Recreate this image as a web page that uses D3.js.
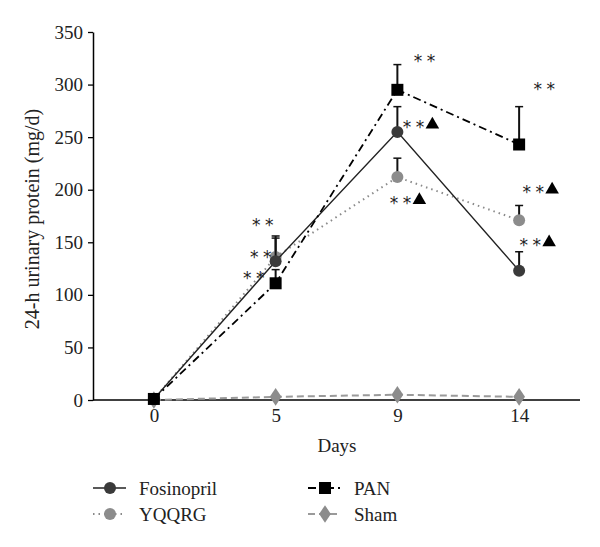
<!DOCTYPE html>
<html><head><meta charset="utf-8">
<script src="https://cdn.jsdelivr.net/npm/d3@7"></script>
<style>body{margin:0;background:#fff} svg text{font-family:"Liberation Serif","Times New Roman",serif}</style>
</head><body>
<svg id="c" width="600" height="547"></svg>
<script>
const days = ["0","5","9","14"];
const yTicks = [0,50,100,150,200,250,300,350];
const fosinopril = [1,132,255,123];
const fosinoprilErr = [0,22,24,18];
const yqqrg = [1,136,212,171];
const yqqrgErr = [0,20,18,14];
const pan = [1,111,295,243];
const panErr = [0,13,24,36];
const sham = [0,3,5,3];
const shamErr = [0,0,0,0];
// significance marks: day, value level, with triangle?
const annDays = ["5","5","5","9","9","9","14","14","14"];
const annValues = [170,139,119,326,263,191,299,201,151];
const annTri = [false,false,false,false,true,true,false,true,true];
const annDx = [-13,-15,-22,27,16,3,25,14,11];

const svg = d3.select("#c");
const x = d3.scalePoint().domain(days).range([93,580]).padding(0.5);
const y = d3.scaleLinear().domain([0,350]).range([400,32]);
const serif = '"Liberation Serif","Times New Roman",serif';
const FS = 19;

// axes
const yAxis = svg.append("g").attr("transform","translate(93,0)")
  .call(d3.axisLeft(y).tickValues(yTicks).tickSize(5).tickSizeOuter(0));
yAxis.select(".domain").attr("stroke","#000").attr("stroke-width",1.5);
yAxis.selectAll(".tick line").attr("stroke-width",1.3);
yAxis.selectAll("text").style("font-family",serif).style("font-size",FS+"px").attr("fill","#222").attr("dx",-2);

const xAxis = svg.append("g").attr("transform","translate(0,400)")
  .call(d3.axisBottom(x).tickSize(0).tickSizeOuter(0).tickPadding(9));
xAxis.select(".domain").attr("d","M93,0H580").attr("stroke","#000").attr("stroke-width",1.5);
xAxis.selectAll("text").style("font-family",serif).style("font-size",FS+"px").attr("fill","#222");

svg.append("text").attr("x",337).attr("y",452).attr("text-anchor","middle")
  .style("font-family",serif).style("font-size",FS+"px").attr("fill","#222").text("Days");
svg.append("text").attr("transform","translate(39,219) rotate(-90)").attr("text-anchor","middle")
  .style("font-family",serif).style("font-size","20px").attr("fill","#222").text("24-h urinary protein (mg/d)");

const series = [
  {name:"Sham", vals:sham, err:shamErr, line:"#9a9a9a", dash:"7,4", lw:2, marker:"diamond", fill:"#8c8c8c"},
  {name:"YQQRG", vals:yqqrg, err:yqqrgErr, line:"#8a8a8a", dash:"1.5,4", lw:2, marker:"circle", fill:"#8c8c8c"},
  {name:"Fosinopril", vals:fosinopril, err:fosinoprilErr, line:"#222", dash:null, lw:1.4, marker:"circle", fill:"#3a3a3a"},
  {name:"PAN", vals:pan, err:panErr, line:"#000", dash:"8,4,2,4", lw:1.8, marker:"square", fill:"#000"}
];

const line = d3.line().x((d,i)=>x(days[i])).y(d=>y(d));
function marker(g, type, fill){
  if(type==="circle") g.append("circle").attr("r",6).attr("fill",fill);
  else if(type==="square") g.append("rect").attr("x",-6).attr("y",-6).attr("width",12).attr("height",12).attr("fill",fill);
  else g.append("path").attr("d",d3.symbol(d3.symbolDiamond,90)()).attr("fill",fill).attr("transform","scale(1.15,1)");
}

series.forEach(s=>{
  const g = svg.append("g");
  s.vals.forEach((v,i)=>{
    if(s.err[i]>0){
      const cx = x(days[i]);
      g.append("line").attr("x1",cx).attr("x2",cx).attr("y1",y(v)).attr("y2",y(v+s.err[i])).attr("stroke","#111").attr("stroke-width",2);
      g.append("line").attr("x1",cx-4).attr("x2",cx+4).attr("y1",y(v+s.err[i])).attr("y2",y(v+s.err[i])).attr("stroke","#111").attr("stroke-width",1.5);
    }
  });
  g.append("path").attr("d",line(s.vals)).attr("fill","none").attr("stroke",s.line)
    .attr("stroke-width",s.lw).attr("stroke-dasharray",s.dash);
  s.vals.forEach((v,i)=>{
    const m = g.append("g").attr("transform",`translate(${x(days[i])},${y(v)})`);
    marker(m, s.marker, s.fill);
  });
});

// annotations
annDays.forEach((d,i)=>{
  const cx = x(d)+annDx[i], cy = y(annValues[i]);
  [-6.5,6.5].forEach(o=>{
    svg.append("text").attr("x",cx+o).attr("y",cy+9.5).attr("text-anchor","middle")
      .style("font-family","'DejaVu Sans',sans-serif").style("font-size","17px").attr("fill","#222").text("*");
  });
  if(annTri[i]){
    svg.append("path").attr("d",d3.symbol(d3.symbolTriangle,80)())
      .attr("transform",`translate(${cx+19},${cy+1})`).attr("fill","#000");
  }
});

// legend
const legend = [
  {name:"Fosinopril", s:series[2], lx:93, ly:488},
  {name:"YQQRG", s:series[1], lx:93, ly:514},
  {name:"PAN", s:series[3], lx:308, ly:488},
  {name:"Sham", s:series[0], lx:308, ly:514}
];
legend.forEach(l=>{
  const g = svg.append("g");
  g.append("line").attr("x1",l.lx).attr("x2",l.lx+33).attr("y1",l.ly).attr("y2",l.ly)
    .attr("stroke",l.s.line).attr("stroke-width",l.s.lw).attr("stroke-dasharray",l.s.dash);
  const m = g.append("g").attr("transform",`translate(${l.lx+17},${l.ly})`);
  marker(m, l.s.marker, l.s.fill);
  g.append("text").attr("x",l.lx+46).attr("y",l.ly+6.5).style("font-family",serif).style("font-size",FS+"px").attr("fill","#222").text(l.name);
});
</script>
</body></html>
